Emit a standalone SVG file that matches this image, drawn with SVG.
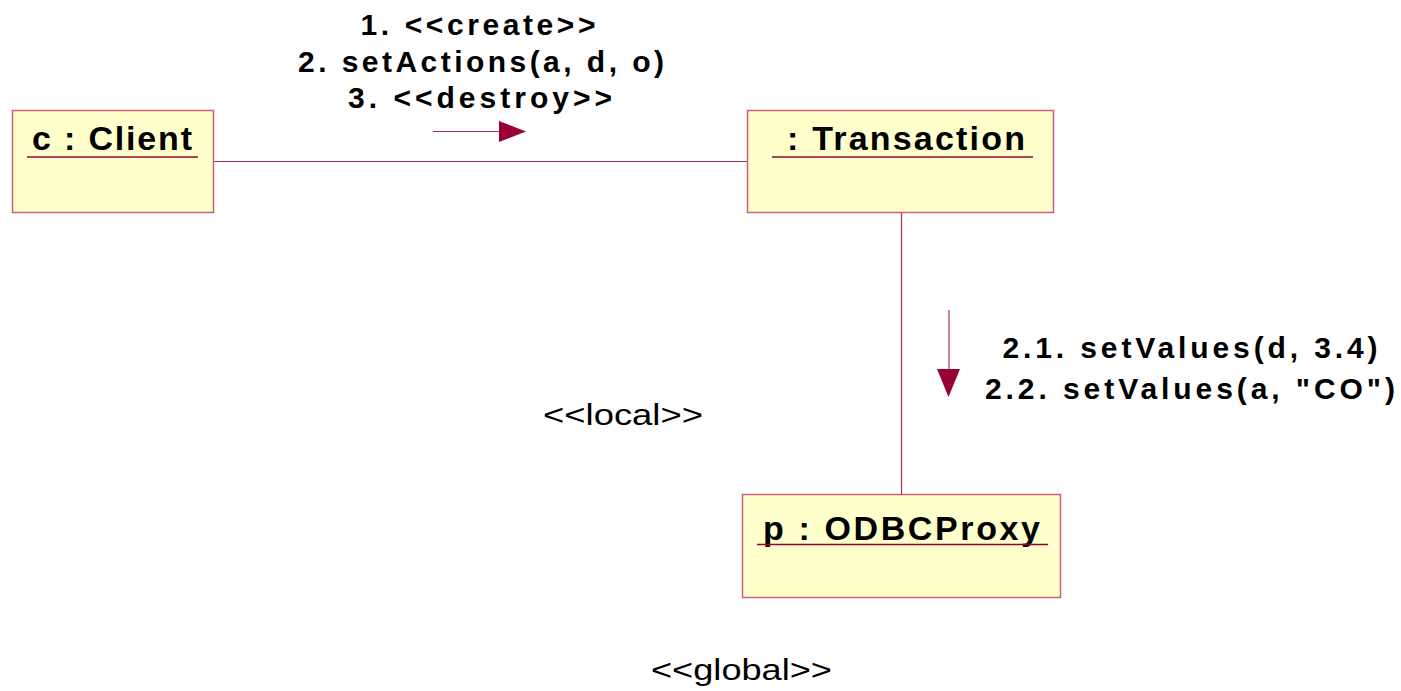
<svg xmlns="http://www.w3.org/2000/svg" width="1401" height="691" viewBox="0 0 1401 691">
  <style>
    .box { fill: #ffffcc; stroke: #c8607e; stroke-width: 1.5; }
    .uline { stroke: #990033; stroke-width: 1.5; }
    .link { stroke: #a8305a; stroke-width: 1.2; fill: none; }
    .head { fill: #990033; }
    .name { font-family: "Liberation Sans", Arial, sans-serif; font-weight: bold; font-size: 34px; fill: #000; }
    .msg { font-family: "Liberation Sans", Arial, sans-serif; font-weight: bold; font-size: 30px; fill: #000; text-anchor: middle; }
    .stereo { font-family: "Liberation Sans", Arial, sans-serif; font-size: 29px; fill: #000; }
  </style>
  <rect width="1401" height="691" fill="#ffffff"/>

  <!-- links between objects -->
  <g id="connectors">
    <line class="link" x1="214" y1="161.5" x2="747" y2="161.5"/>
    <line class="link" x1="901.5" y1="213" x2="901.5" y2="494"/>
    <!-- message arrow: client to transaction -->
    <line class="link" x1="433" y1="131.5" x2="500" y2="131.5"/>
    <polygon class="head" points="499,121 526,131.5 499,142"/>
    <!-- message arrow: transaction to proxy -->
    <line class="link" x1="949" y1="310" x2="949" y2="370"/>
    <polygon class="head" points="937,369 960,369 948.5,397"/>
  </g>

  <g id="client">
    <rect class="box" x="12.5" y="110.5" width="201" height="102"/>
    <text class="name" x="32" y="150" textLength="160" lengthAdjust="spacing">c : Client</text>
    <line class="uline" x1="27" y1="157" x2="198" y2="157"/>
  </g>

  <g id="transaction">
    <rect class="box" x="747.5" y="110.5" width="306" height="102"/>
    <text class="name" x="787" y="150" textLength="238" lengthAdjust="spacing">: Transaction</text>
    <line class="uline" x1="772" y1="157" x2="1033" y2="157"/>
  </g>

  <g id="odbcproxy">
    <rect class="box" x="742.5" y="494.5" width="318" height="103"/>
    <text class="name" x="763" y="540" textLength="277" lengthAdjust="spacing">p : ODBCProxy</text>
    <line class="uline" x1="757" y1="544.5" x2="1048" y2="544.5"/>
  </g>

  <g id="labels">
    <text class="msg" x="478" y="35" textLength="235" lengthAdjust="spacing">1. &lt;&lt;create&gt;&gt;</text>
    <text class="msg" x="481" y="72" textLength="366" lengthAdjust="spacing">2. setActions(a, d, o)</text>
    <text class="msg" x="480" y="108" textLength="264" lengthAdjust="spacing">3. &lt;&lt;destroy&gt;&gt;</text>
    <text class="msg" x="1190" y="358" textLength="375" lengthAdjust="spacing">2.1. setValues(d, 3.4)</text>
    <text class="msg" x="1190" y="399" textLength="410" lengthAdjust="spacing">2.2. setValues(a, "CO")</text>
    <text class="stereo" x="543" y="425" textLength="160" lengthAdjust="spacingAndGlyphs">&lt;&lt;local&gt;&gt;</text>
    <text class="stereo" x="651" y="680" textLength="181" lengthAdjust="spacingAndGlyphs">&lt;&lt;global&gt;&gt;</text>
  </g>
</svg>
